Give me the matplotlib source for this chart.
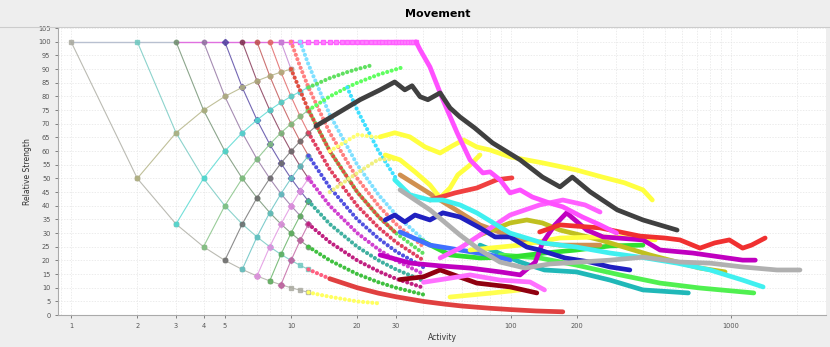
import matplotlib
matplotlib.use("Agg")
import matplotlib.pyplot as plt
import matplotlib.ticker

# Values: x = activity, y = relative strength (%)

# lattice lines that fall from 100 (left part of the chart)
fall1_x = [1, 2, 3, 4, 5, 6, 7, 8, 9, 10, 11, 12]
fall1_y = [100, 50, 33.3, 25, 20, 16.7, 14.3, 12.5, 11.1, 10, 9.1, 8.3]
fall2_x = [2, 3, 4, 5, 6, 7, 8, 9, 10, 11, 12]
fall2_y = [100, 66.7, 50, 40, 33.3, 28.6, 25, 22.2, 20, 18.2, 16.7]
fall3_x = [3, 4, 5, 6, 7, 8, 9, 10, 11, 12]
fall3_y = [100, 75, 60, 50, 42.9, 37.5, 33.3, 30, 27.3, 25]
fall4_x = [4, 5, 6, 7, 8, 9, 10, 11, 12]
fall4_y = [100, 80, 66.7, 57.1, 50, 44.4, 40, 36.4, 33.3]
fall5_x = [5, 6, 7, 8, 9, 10, 11, 12]
fall5_y = [100, 83.3, 71.4, 62.5, 55.6, 50, 45.5, 41.7]
fall6_x = [6, 7, 8, 9, 10, 11, 12]
fall6_y = [100, 85.7, 75, 66.7, 60, 54.5, 50]
fall7_x = [7, 8, 9, 10, 11, 12]
fall7_y = [100, 87.5, 77.8, 70, 63.6, 58.3]
fall8_x = [8, 9, 10, 11, 12]
fall8_y = [100, 88.9, 80, 72.7, 66.7]
fall9_x = [9, 10, 11, 12]
fall9_y = [100, 90, 81.8, 75]

# lattice lines that rise back up
rise1_x = [2, 3, 4, 5, 6, 7, 8, 9, 10]
rise1_y = [50, 66.7, 75, 80, 83.3, 85.7, 87.5, 88.9, 90]
rise2_x = [3, 4, 5, 6, 7, 8, 9, 10, 11, 12]
rise2_y = [33.3, 50, 60, 66.7, 71.4, 75, 77.8, 80, 81.8, 83.3]
rise3_x = [4, 5, 6, 7, 8, 9, 10, 11, 12]
rise3_y = [25, 40, 50, 57.1, 62.5, 66.7, 70, 72.7, 75]
rise4_x = [5, 6, 7, 8, 9, 10, 11, 12, 13]
rise4_y = [20, 33.3, 42.9, 50, 55.6, 60, 63.6, 66.7, 69.2]
rise5_x = [6, 7, 8, 9, 10, 11, 12]
rise5_y = [16.7, 28.6, 37.5, 44.4, 50, 54.5, 58.3]
rise6_x = [7, 8, 9, 10, 11, 12]
rise6_y = [14.3, 25, 33.3, 40, 45.5, 50]
rise7_x = [8, 9, 10, 11, 12]
rise7_y = [12.5, 22.2, 30, 36.4, 41.7]
rise8_x = [9, 10, 11, 12]
rise8_y = [11.1, 20, 27.3, 33.3]

# flat top at 100
top_x = [9, 10, 11, 12, 13, 14, 15, 16, 17, 18, 19, 20, 21, 22, 23, 24, 25,
         26, 27, 28, 29, 30, 31, 32, 33, 34, 35, 36, 37]

# dotted continuations in the middle
ext_x = [12, 15, 20, 25, 30, 40]
ext1_y = [8.3, 6.7, 5, 4.3]
ext3_y = [25, 20, 15, 12, 10, 7.5]
ext4_y = [33.3, 26.7, 20, 16, 13.3, 10]
ext5_y = [41.7, 33.3, 25, 20, 16.7, 12.5]
ext6_y = [50, 40, 30, 24, 20, 15]
ext7_y = [58.3, 46.7, 35, 28, 23.3, 17.5]
ext8_y = [66.7, 53.3, 40, 32, 26.7, 20]
ext9_y = [75, 60, 45, 36, 30, 22.5]
fall10_x = [10, 11, 12, 15, 20, 25, 30, 40]
fall10_y = [100, 90.9, 83.3, 66.7, 50, 40, 33.3, 25]
fall11_x = [11, 12, 15, 20, 25, 30, 40]
fall11_y = [100, 91.7, 73.3, 55, 44, 36.7, 27.5]
green1_x = [12, 15, 18, 20, 23]
green1_y = [83.3, 86.7, 88.9, 90, 91.3]
green2_x = [12, 15, 18, 20, 25, 32]
green2_y = [75, 80, 83.3, 85, 88, 90.6]
reddot_x = [10, 12, 15, 20, 25, 30]
reddot_y = [90, 75, 60, 45, 36, 30]
cyandot_x = [18, 20, 25, 30]
cyandot_y = [83.3, 75, 60, 50]
ylwdot_x = [15, 20, 25]
ylwdot_y = [60, 66, 65]
ylwdot2_x = [15, 20, 25, 30]
ylwdot2_y = [45, 52, 57, 57]

# thick noisy series (right part)
red_low_x = [15, 20, 25, 30, 40, 50, 60, 80, 100, 130, 172]
red_low_y = [13.3, 10, 8, 6.7, 5, 4, 3.3, 2.5, 2, 1.5, 1.2]
black_x = [13, 16.7, 20.6, 25.4, 29.6, 32.9, 35.5, 38.6, 41.9, 47.6, 52.8, 58.6, 68.3,
           82.4, 110, 139, 167, 190, 229, 304, 398, 569]
black_y = [69.2, 74.4, 78.8, 82.4, 85.3, 82.4, 83.9, 79.9, 78.8, 81.3, 75.8, 72.5, 68.5,
           63, 56.8, 50.5, 46.9, 50.5, 45.1, 38.5, 34.8, 31.1]
yellow_x = [25.4, 29.6, 34.7, 40.7, 47.6, 54.1, 60.8, 69.9, 80.3, 99, 139, 198, 260, 328, 398, 439]
yellow_y = [65.2, 66.7, 65.2, 61.5, 59.3, 61.9, 64.1, 61.5, 60.4, 57.9, 55.7, 53.1, 50.5, 48.4, 45.8, 42.1]
yellow2_x = [26.8, 31.3, 36.6, 42.8, 47.6, 52.8, 57.3, 65.1, 72.3]
yellow2_y = [58.6, 56.8, 52.4, 47.6, 42.9, 46.5, 51.3, 54.9, 58.6]
yellow3_x = [65.1, 110, 167, 254, 386, 452]
yellow3_y = [23.8, 25.6, 28.2, 28.6, 28.2, 27.5]
yellow4_x = [52.8, 82.4, 110]
yellow4_y = [6.6, 8.1, 9.2]
magenta_x = [37, 38.6, 42.8, 49, 56.9, 65.1, 74.5, 80.3, 89.1, 99, 110, 125, 150, 172, 211, 254, 302]
magenta_y = [100, 97.1, 90.8, 78.8, 66.7, 56.8, 52, 52.4, 49.5, 44.7, 45.8, 43.2, 41, 39.6, 35.9, 33, 30]
pink_x = [47.6, 58.6, 72.3, 99, 135, 172, 217, 254]
pink_y = [20.9, 24.5, 29.3, 36.6, 40.3, 42.1, 40.3, 37.7]
pink2_x = [40, 52.8, 65.1, 89.1, 122, 142]
pink2_y = [12, 13.5, 14.7, 12.8, 12.1, 9.2]
red1_x = [42.8, 50, 55.7, 69.9, 86.1, 101]
red1_y = [42.1, 43.6, 44.7, 46.5, 49.5, 50.2]
red2_x = [135, 167, 254, 386, 500, 586, 723, 843, 983, 1130, 1240, 1430]
red2_y = [30.4, 33, 31.9, 28.9, 28.2, 27.5, 24.5, 26.4, 27.5, 24.5, 25.6, 28.2]
purple_x = [25.4, 35, 47.6, 65.1, 89.1, 110, 129, 139, 158, 179, 221, 262, 398, 476, 670, 1130, 1290]
purple_y = [22, 19, 18, 17.2, 15.8, 14.7, 19.4, 26.4, 32.9, 37.4, 31.1, 28.6, 27.5, 23.8, 22.7, 20.1, 20.1]
gray_x = [31.3, 42.8, 58.6, 72.3, 89.1, 116, 150, 206, 282, 398, 586, 803, 1130, 1620, 2059]
gray_y = [45.8, 38.5, 29.3, 23.8, 19.4, 17.2, 18.7, 19.4, 20.1, 21.2, 19.4, 19, 17.6, 16.5, 16.5]
cyan_x = [29.6, 34.7, 42.8, 49, 58.6, 69.9, 99, 139, 198, 282, 409, 569, 803, 1130, 1400]
cyan_y = [49.5, 44, 42.1, 42.1, 40.3, 37.4, 30, 26.4, 24.9, 22.7, 20.9, 19, 16.5, 12.8, 10.3]
teal_x = [72.3, 110, 142, 198, 282, 398, 640]
teal_y = [25.6, 19.4, 16.5, 15.8, 12.8, 9.2, 8.1]
green_x = [89.1, 135, 198, 313, 476, 723, 1270]
green_y = [22, 20.9, 18.3, 14.7, 11.7, 9.9, 8.1]
green3_x = [38.6, 52.8, 72.3, 99, 142, 198, 282, 398]
green3_y = [27.5, 22, 20.9, 21.2, 22.7, 23.8, 25.3, 25.6]
olive_x = [72.3, 99, 118, 139, 167, 254, 428, 723, 940]
olive_y = [29.3, 33.7, 34.8, 33.7, 31.1, 27.5, 22, 17.2, 15.8]
orange_x = [31.3, 47.6, 72.3, 110, 167, 254]
orange_y = [51.3, 42.1, 33, 27.5, 25.6, 25.6]
blue_x = [26.8, 29.6, 32.9, 36.6, 42.8, 49, 58.6, 72.3, 84.6, 99, 118, 135, 176, 229, 282, 347]
blue_y = [34.8, 36.6, 34.1, 36.6, 34.8, 37.4, 35.9, 31.9, 28.6, 28.6, 24.9, 23.8, 20.9, 19.4, 17.6, 16.5]
blue2_x = [31.3, 42.8, 58.6, 80.3, 99]
blue2_y = [30.4, 25.6, 23.8, 22, 20.1]
maroon_x = [31.3, 40, 47.6, 69.9, 99, 131]
maroon_y = [13, 14, 16.5, 11.7, 10.3, 8.1]

x_ticks = [1, 2, 3, 4, 5, 10, 20, 30, 100, 200, 1000]

fig = plt.figure(figsize=(8.3, 3.47), dpi=100, facecolor="#eeeeee")
ax = fig.add_axes([0.07, 0.092, 0.925, 0.827])
ax.set_facecolor("white")
ax.set_xscale("log")
ax.set_xlim(0.873, 2700)
ax.set_ylim(0, 105)

# grid
ax.set_yticks(range(0, 106, 5))
ax.xaxis.set_major_locator(matplotlib.ticker.FixedLocator(x_ticks))
ax.xaxis.set_major_formatter(matplotlib.ticker.FixedFormatter([str(t) for t in x_ticks]))
ax.xaxis.set_minor_locator(matplotlib.ticker.LogLocator(subs=range(1, 10)))
ax.xaxis.set_minor_formatter(matplotlib.ticker.NullFormatter())
ax.grid(True, which="both", color="#e4e4e4", lw=0.5, ls=(0, (2, 2)))
ax.set_axisbelow(True)
ax.tick_params(axis="both", which="major", labelsize=4.8, colors="#555555", length=2, width=0.5)
ax.tick_params(axis="x", which="minor", length=0)
for s in ["top", "right"]:
    ax.spines[s].set_visible(False)
for s in ["left", "bottom"]:
    ax.spines[s].set_color("#aaaaaa")
    ax.spines[s].set_linewidth(0.8)

# top flat line
ax.plot([1, 3], [100, 100], color="#b8c0d0", lw=1)
ax.plot([3, 37], [100, 100], color="#e070e0", lw=1)
ax.plot(top_x, [100] * len(top_x), ls="none", marker="s", ms=3, color="#ff80ff", mec="#ff60ff")

lattice = [
    (fall1_x, fall1_y, "#aaaaa0", "s"),
    (fall2_x, fall2_y, "#70c8c0", "s"),
    (fall3_x, fall3_y, "#709070", "o"),
    (fall4_x, fall4_y, "#9070a0", "o"),
    (fall5_x, fall5_y, "#5040a0", "D"),
    (fall6_x, fall6_y, "#803050", "o"),
    (fall7_x, fall7_y, "#c05050", "o"),
    (fall8_x, fall8_y, "#e06060", "o"),
    (fall9_x, fall9_y, "#c080d0", "s"),
    (rise1_x, rise1_y, "#b0b080", "o"),
    (rise2_x, rise2_y, "#50d8d0", "o"),
    (rise3_x, rise3_y, "#80c080", "o"),
    (rise4_x, rise4_y, "#707070", "o"),
    (rise5_x, rise5_y, "#60c0c0", "o"),
    (rise6_x, rise6_y, "#e090e0", "D"),
    (rise7_x, rise7_y, "#60b060", "o"),
    (rise8_x, rise8_y, "#c060a0", "D"),
]
for x, y, c, m in lattice:
    ax.plot(x, y, color=c, lw=0.8, alpha=0.8, marker=m, ms=3.2, mfc=c, mec=c)

dotted = [
    (ext_x[:4], ext1_y, "#ffff60"),
    (ext_x[:2], [16.7, 13.3], "#ff6080"),
    (ext_x, ext3_y, "#40c040"),
    (ext_x, ext4_y, "#c02080"),
    (ext_x, ext5_y, "#40b0a0"),
    (ext_x, ext6_y, "#d040d0"),
    (ext_x, ext7_y, "#5050e0"),
    (ext_x, ext8_y, "#e04060"),
    (ext_x, ext9_y, "#60e060"),
    (fall10_x, fall10_y, "#ff8080"),
    (fall11_x, fall11_y, "#80e0ff"),
    (green1_x, green1_y, "#60e060"),
    (green2_x, green2_y, "#60ff60"),
    (reddot_x, reddot_y, "#e05040"),
    (cyandot_x, cyandot_y, "#40e0ff"),
    (ylwdot_x, ylwdot_y, "#ffff70"),
    (ylwdot2_x, ylwdot2_y, "#f0f080"),
]
for x, y, c in dotted:
    ax.plot(x, y, color=c, lw=3, ls=(0, (0.01, 1.1)), dash_capstyle="round")

thick = [
    (red_low_x, red_low_y, "#e04040"),
    (yellow4_x, yellow4_y, "#ffff50"),
    (maroon_x, maroon_y, "#900010"),
    (pink2_x, pink2_y, "#ff70ff"),
    (teal_x, teal_y, "#20b8b8"),
    (green_x, green_y, "#50f050"),
    (green3_x, green3_y, "#30e030"),
    (blue2_x, blue2_y, "#4070ff"),
    (orange_x, orange_y, "#d09050"),
    (olive_x, olive_y, "#c0c020"),
    (yellow3_x, yellow3_y, "#ffff40"),
    (yellow2_x, yellow2_y, "#ffff40"),
    (yellow_x, yellow_y, "#ffff40"),
    (purple_x, purple_y, "#c000c0"),
    (red1_x, red1_y, "#f04040"),
    (red2_x, red2_y, "#f03030"),
    (pink_x, pink_y, "#ff60ff"),
    (magenta_x, magenta_y, "#ff50ff"),
    (blue_x, blue_y, "#2020c0"),
    (cyan_x, cyan_y, "#40f0f0"),
    (gray_x, gray_y, "#b0b0b0"),
    (black_x, black_y, "#404040"),
]
for x, y, c in thick:
    ax.plot(x, y, color=c, lw=3.4, solid_joinstyle="round", solid_capstyle="round")

ax.set_xlabel("Activity", fontsize=5.5, color="#333333", labelpad=3)
ax.set_ylabel("Relative Strength", fontsize=5.5, color="#333333", labelpad=4)
fig.text(0.527, 0.96, "Movement", ha="center", va="center", fontsize=8, fontweight="bold")
fig.add_artist(plt.Line2D([0, 1], [0.921, 0.921], color="#cccccc", lw=0.8))

fig.savefig("out.png", dpi=100, facecolor=fig.get_facecolor())
